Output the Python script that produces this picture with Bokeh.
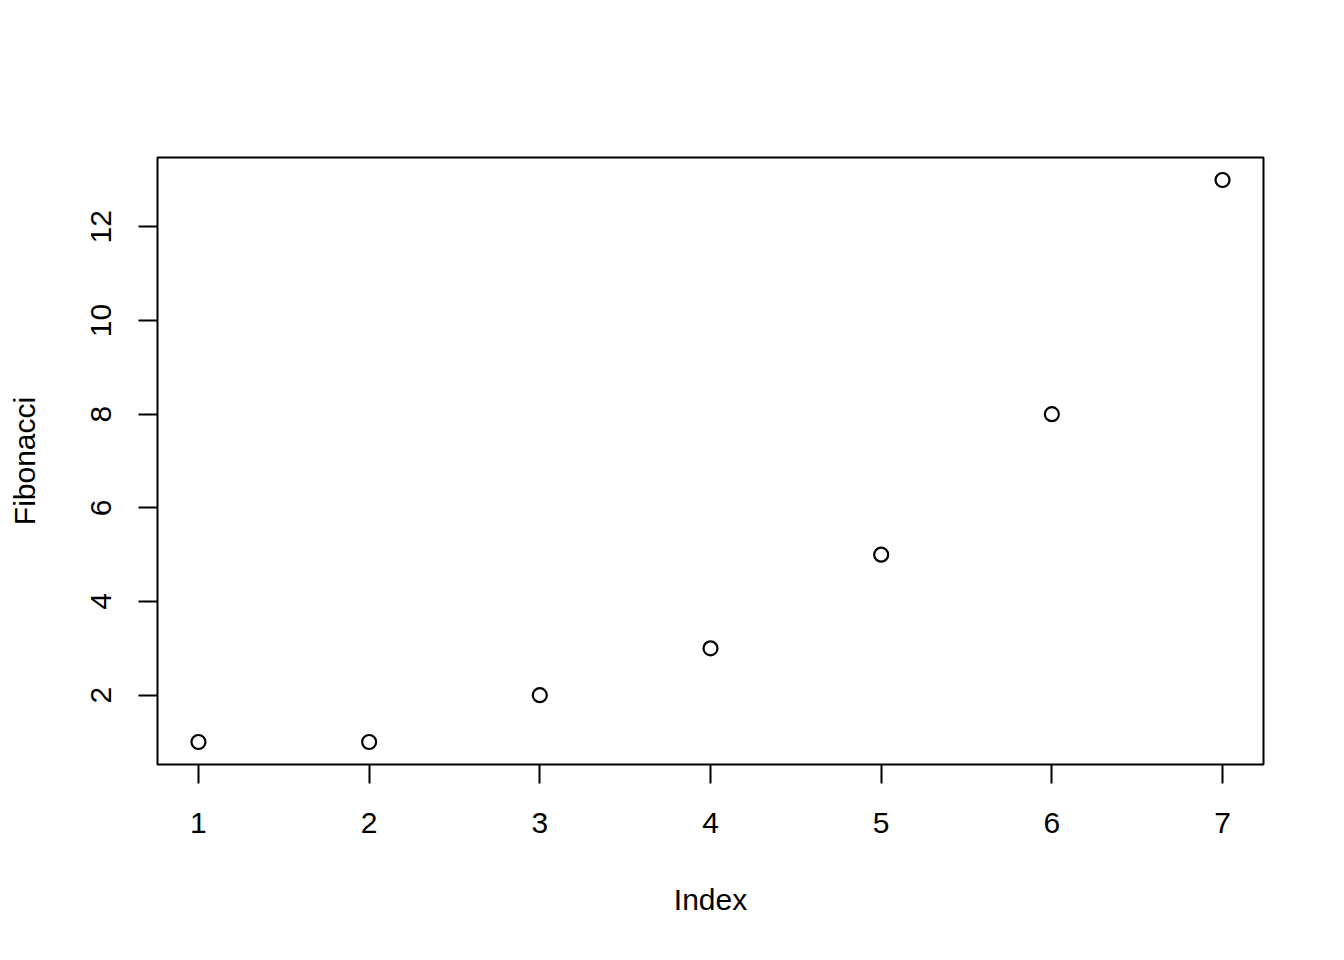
from bokeh.plotting import figure
from bokeh.models import Range1d, FixedTicker, ColumnDataSource
from bokeh.embed import file_html
from bokeh.resources import INLINE

index = [1, 2, 3, 4, 5, 6, 7]
fibonacci = [1, 1, 2, 3, 5, 8, 13]
x_ticks = [1, 2, 3, 4, 5, 6, 7]
y_ticks = [2, 4, 6, 8, 10, 12]

src = ColumnDataSource(dict(x=index, y=fibonacci))

p = figure(width=1344, height=960, output_backend="svg", toolbar_location=None,
           x_range=Range1d(0.76, 7.24), y_range=Range1d(0.52, 13.48),
           min_border_left=157, min_border_right=81, min_border_top=157, min_border_bottom=196)
p.xgrid.visible = False
p.ygrid.visible = False
p.outline_line_color = "black"
p.outline_line_width = 2
p.background_fill_color = "white"
p.border_fill_color = "white"

p.scatter("x", "y", source=src, marker="circle", size=14, fill_color=None,
          line_color="black", line_width=2.2)

font = "Liberation Sans"
for ax in (p.xaxis[0], p.yaxis[0]):
    ax.axis_line_color = None
    ax.major_tick_out = 19
    ax.major_tick_in = 0
    ax.minor_tick_out = 0
    ax.minor_tick_in = 0
    ax.major_tick_line_color = "black"
    ax.major_tick_line_width = 2
    ax.major_label_text_font = font
    ax.major_label_text_font_size = "30px"
    ax.major_label_text_color = "black"
    ax.axis_label_text_font = font
    ax.axis_label_text_font_size = "30px"
    ax.axis_label_text_font_style = "normal"
    ax.axis_label_text_color = "black"

p.xaxis[0].ticker = FixedTicker(ticks=x_ticks)
p.yaxis[0].ticker = FixedTicker(ticks=y_ticks)
p.xaxis[0].axis_label = "Index"
p.yaxis[0].axis_label = "Fibonacci"
p.xaxis[0].major_label_standoff = 29
p.xaxis[0].axis_label_standoff = 47
p.yaxis[0].major_label_orientation = "vertical"
p.yaxis[0].major_label_standoff = 27
p.yaxis[0].axis_label_standoff = 48

open("out.html", "w").write(file_html(p, INLINE))
